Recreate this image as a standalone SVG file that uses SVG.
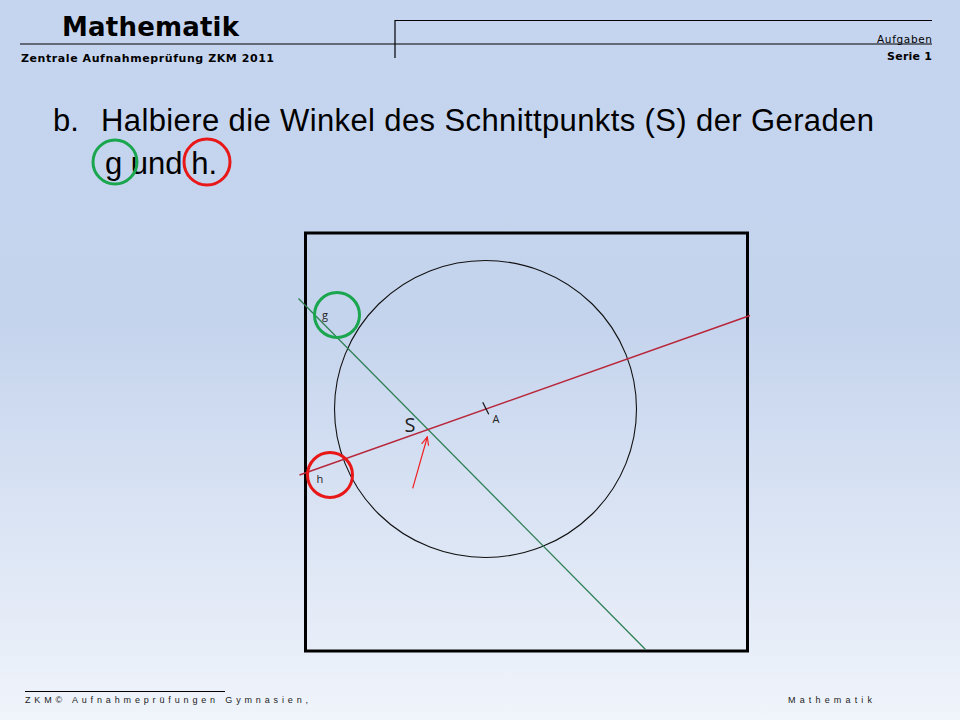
<svg xmlns="http://www.w3.org/2000/svg" width="960" height="720" viewBox="0 0 960 720">
<defs>
<linearGradient id="bg" x1="0" y1="0" x2="0" y2="1">
<stop offset="0" stop-color="#c6d5ef"/>
<stop offset="0.45" stop-color="#c5d4ed"/>
<stop offset="1" stop-color="#f0f4fb"/>
</linearGradient>
<marker id="arr" viewBox="0 0 10 10" refX="9" refY="5" markerWidth="9" markerHeight="9" markerUnits="userSpaceOnUse" orient="auto">
<path d="M0,1 L9,5 L0,9" fill="none" stroke="#f02020" stroke-width="1.3"/>
</marker>
<style>
.hd{font-family:"DejaVu Sans",Verdana,sans-serif;fill:#000}
.ti{font-family:"Liberation Sans",Arial,sans-serif;font-size:31px;fill:#000}
.ft{font-family:"Liberation Sans",Arial,sans-serif;font-size:9px;fill:#222}
.lbl{font-family:"Open Sans","DejaVu Sans",sans-serif;fill:#222}
.rule{stroke:#000;stroke-width:1.2;fill:none}
.mark{fill:none;stroke-width:3}
</style>
</defs>
<rect x="0" y="0" width="960" height="720" fill="url(#bg)"/>

<g id="header">
<text class="hd" x="62" y="36" font-size="26" font-weight="bold" textLength="177" lengthAdjust="spacing">Mathematik</text>
<line class="rule" x1="20" y1="44" x2="932" y2="44"/>
<line class="rule" x1="395" y1="20.5" x2="932" y2="20.5"/>
<line class="rule" x1="395" y1="20" x2="395" y2="58"/>
<text class="hd" x="21" y="62" font-size="11" font-weight="bold" textLength="253" lengthAdjust="spacing">Zentrale Aufnahmeprüfung  ZKM 2011</text>
<text class="hd" x="877" y="43" font-size="10.5" fill="#333" textLength="55" lengthAdjust="spacing">Aufgaben</text>
<text class="hd" x="887" y="60" font-size="11" font-weight="bold" textLength="45" lengthAdjust="spacing">Serie 1</text>
</g>

<g id="title">
<text class="ti" x="53" y="131">b.</text>
<text class="ti" x="101" y="131" textLength="773" lengthAdjust="spacing">Halbiere die Winkel des Schnittpunkts (S) der Geraden</text>
<text class="ti" x="105" y="174">g und h.</text>
<circle class="mark" cx="115" cy="162" r="22" stroke="#1aa64e"/>
<circle class="mark" cx="207" cy="162" r="23" stroke="#e81818"/>
</g>

<g id="frame">
<rect x="305.5" y="233" width="442" height="418" fill="none" stroke="#000" stroke-width="3"/>
</g>

<g id="circle">
<ellipse cx="485.5" cy="409" rx="151" ry="148.5" fill="none" stroke="#111" stroke-width="1.1"/>
</g>

<g id="connectors">
<line id="line-g" x1="298.5" y1="298.5" x2="645.5" y2="649.5" stroke="#2f7f55" stroke-width="1.3"/>
<line id="line-h" x1="299.5" y1="475" x2="750" y2="315.5" stroke="#b8263a" stroke-width="1.5"/>
<line id="pointer" x1="412.7" y1="488.3" x2="427.3" y2="437" stroke="#f02020" stroke-width="1.2" marker-end="url(#arr)"/>
</g>

<g id="point-A">
<line x1="482.7" y1="402.3" x2="488.7" y2="414.3" stroke="#111" stroke-width="1.2"/>
<text class="lbl" x="492.5" y="423" font-size="11">A</text>
</g>

<g id="point-S">
<text class="lbl" x="404.5" y="432" font-size="20" fill="#000">S</text>
</g>

<g id="label-g">
<circle class="mark" cx="337" cy="315" r="22.5" stroke="#1aa64e"/>
<text class="lbl" x="322" y="319" font-size="11">g</text>
</g>

<g id="label-h">
<circle class="mark" cx="330" cy="475" r="22.5" stroke="#e81818"/>
<text class="lbl" x="316.5" y="483" font-size="11">h</text>
</g>

<g id="footer">
<line x1="25" y1="691.5" x2="225" y2="691.5" stroke="#000" stroke-width="1"/>
<text class="ft" x="25" y="703" textLength="283" lengthAdjust="spacing">ZKM© Aufnahmeprüfungen Gymnasien,</text>
<text class="ft" x="788" y="703" textLength="84" lengthAdjust="spacing">Mathematik</text>
</g>
</svg>
